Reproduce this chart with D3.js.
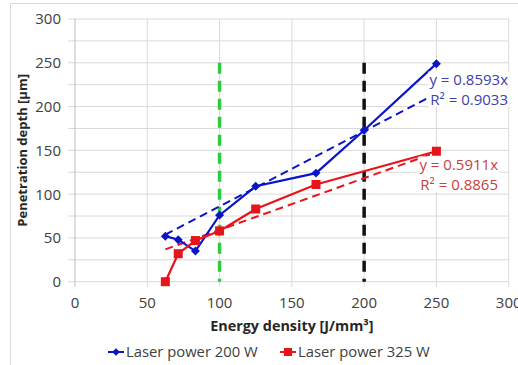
<!DOCTYPE html>
<html>
<head>
<meta charset="utf-8">
<script src="https://cdn.jsdelivr.net/npm/d3@7"></script>
<style>
  body { margin: 0; background: #fff; }
  svg { display: block; font-family: "Open Sans", sans-serif; }
</style>
</head>
<body>
<svg id="chart"></svg>
<script>
const width = 518;
const height = 365;

// data
const energy200 = [62.5, 71.4, 83.3, 100, 125, 166.7, 200, 250];
const depth200 = [52, 48, 35, 76, 109, 124, 173, 249];
const energy325 = [62.5, 71.4, 83.3, 100, 125, 166.7, 250];
const depth325 = [0, 32, 47, 58, 83, 111, 149];
const seriesNames = ["Laser power 200 W", "Laser power 325 W"];
const slopes = [0.8593, 0.5911];
const r2Values = ["0.9033", "0.8865"];
const markerLines = [100, 200];
const markerTop = 250;
const xTicks = [0, 50, 100, 150, 200, 250, 300];
const yTicks = [0, 50, 100, 150, 200, 250, 300];
const yGrid = d3.range(0, 301, 25);

const margin = { top: 19, right: 9.3, bottom: 83.3, left: 75 };
const innerW = width - margin.left - margin.right;
const innerH = height - margin.top - margin.bottom;

const svg = d3.select("#chart")
  .attr("width", width)
  .attr("height", height)
  .attr("viewBox", `0 0 ${width} ${height}`);

// marco del grafico
svg.append("rect")
  .attr("x", 10.5).attr("y", 3.5)
  .attr("width", 540).attr("height", 400)
  .attr("fill", "#fff")
  .attr("stroke", "#d9d9d9");

const x = d3.scaleLinear().domain([0, 300]).range([margin.left, margin.left + innerW]);
const y = d3.scaleLinear().domain([0, 300]).range([margin.top + innerH, margin.top]);

const g = svg.append("g");

// grid (con marcas de eje hacia fuera)
g.selectAll("line.hgrid").data(yGrid).join("line")
  .attr("class", "hgrid")
  .attr("x1", x(0) - 7).attr("x2", x(300))
  .attr("y1", d => y(d)).attr("y2", d => y(d))
  .attr("stroke", "#d9d9d9").attr("stroke-width", 1);

g.selectAll("line.vgrid").data(xTicks).join("line")
  .attr("class", "vgrid")
  .attr("x1", d => x(d)).attr("x2", d => x(d))
  .attr("y1", y(300)).attr("y2", y(0) + 5)
  .attr("stroke", d => d === 0 ? "#bfbfbf" : "#d9d9d9").attr("stroke-width", 1);

// axis tick labels
g.selectAll("text.ytick").data(yTicks).join("text")
  .attr("class", "ytick")
  .attr("x", x(0) - 14)
  .attr("y", d => y(d))
  .attr("dy", "0.36em")
  .attr("text-anchor", "end")
  .attr("font-size", 15)
  .attr("fill", "#404040")
  .text(d => d);

g.selectAll("text.xtick").data(xTicks).join("text")
  .attr("class", "xtick")
  .attr("x", d => x(d))
  .attr("y", y(0) + 21)
  .attr("dy", "0.36em")
  .attr("text-anchor", "middle")
  .attr("font-size", 15)
  .attr("fill", "#404040")
  .text(d => d);

// axis titles
svg.append("text")
  .attr("x", (x(0) + x(300)) / 2)
  .attr("y", 326)
  .attr("dy", "0.36em")
  .attr("text-anchor", "middle")
  .attr("font-size", 14.4)
  .attr("font-weight", "bold")
  .attr("fill", "#262626")
  .text("Energy density [J/mm³]");

svg.append("text")
  .attr("transform", `translate(22,${(y(0) + y(300)) / 2}) rotate(-90)`)
  .attr("dy", "0.36em")
  .attr("text-anchor", "middle")
  .attr("font-size", 13)
  .attr("font-weight", "bold")
  .attr("fill", "#262626")
  .text("Penetration depth [µm]");

// vertical reference lines
const markerColors = ["#2ecc40", "#111"];
g.selectAll("line.ref").data(markerLines).join("line")
  .attr("class", "ref")
  .attr("x1", d => x(d)).attr("x2", d => x(d))
  .attr("y1", y(markerTop)).attr("y2", y(0))
  .attr("stroke", (d, i) => markerColors[i])
  .attr("stroke-width", 3.5)
  .attr("stroke-dasharray", "11,7");

const colors = ["#0a14c8", "#e8141c"];
const labelColors = ["#4040aa", "#c8413f"];
const series = [
  energy200.map((e, i) => [e, depth200[i]]),
  energy325.map((e, i) => [e, depth325[i]])
];

const line = d3.line().x(d => x(d[0])).y(d => y(d[1]));

// trendlines (dashed)
series.forEach((pts, i) => {
  const x0 = d3.min(pts, d => d[0]);
  const x1 = d3.max(pts, d => d[0]);
  g.append("path")
    .attr("d", line([[x0, slopes[i] * x0], [x1, slopes[i] * x1]]))
    .attr("fill", "none")
    .attr("stroke", colors[i])
    .attr("stroke-width", 2)
    .attr("stroke-dasharray", "8,5");
});

// series lines and markers
series.forEach((pts, i) => {
  g.append("path")
    .attr("d", line(pts))
    .attr("fill", "none")
    .attr("stroke", colors[i])
    .attr("stroke-width", 2.2);
});

// rombo = cuadrado girado 45 grados
const diamond = d3.symbol().type(d3.symbolSquare).size(40);
g.selectAll("path.m200").data(series[0]).join("path")
  .attr("class", "m200")
  .attr("transform", d => `translate(${x(d[0])},${y(d[1])}) rotate(45)`)
  .attr("d", diamond)
  .attr("fill", colors[0]);

g.selectAll("rect.m325").data(series[1]).join("rect")
  .attr("class", "m325")
  .attr("x", d => x(d[0]) - 4.5).attr("y", d => y(d[1]) - 4.5)
  .attr("width", 9).attr("height", 9)
  .attr("fill", colors[1]);

// trendline labels
const labelPos = [[508, 80], [498, 165]];
series.forEach((pts, i) => {
  const lg = svg.append("g");
  const t = lg.append("text")
    .attr("text-anchor", "end")
    .attr("font-size", 15)
    .attr("fill", labelColors[i]);
  t.append("tspan").attr("x", labelPos[i][0]).attr("y", labelPos[i][1]).attr("dy", "0.36em")
    .text(`y = ${slopes[i].toFixed(4)}x`);
  t.append("tspan").attr("x", labelPos[i][0]).attr("y", labelPos[i][1] + 19.5).attr("dy", "0.36em")
    .text(`R² = ${r2Values[i]}`);
  const bb = t.node().getBBox();
  lg.insert("rect", "text")
    .attr("x", bb.x - 1).attr("y", bb.y + 2)
    .attr("width", bb.width + 2).attr("height", bb.height - 4)
    .attr("fill", "#fff");
});

// legend
const legendX = [108, 280];
const ly = 352;
seriesNames.forEach((name, i) => {
  const lg = svg.append("g").attr("transform", `translate(${legendX[i]},${ly})`);
  lg.append("line").attr("x1", 0).attr("x2", 16).attr("stroke", colors[i]).attr("stroke-width", 2);
  if (i === 0) {
    lg.append("path").attr("transform", "translate(8,0) rotate(45)")
      .attr("d", d3.symbol().type(d3.symbolSquare).size(30)).attr("fill", colors[i]);
  } else {
    lg.append("rect").attr("x", 4).attr("y", -4).attr("width", 8).attr("height", 8).attr("fill", colors[i]);
  }
  lg.append("text")
    .attr("x", 18).attr("dy", "0.36em")
    .attr("font-size", 14.8)
    .attr("fill", "#404040")
    .text(name);
});
</script>
</body>
</html>
